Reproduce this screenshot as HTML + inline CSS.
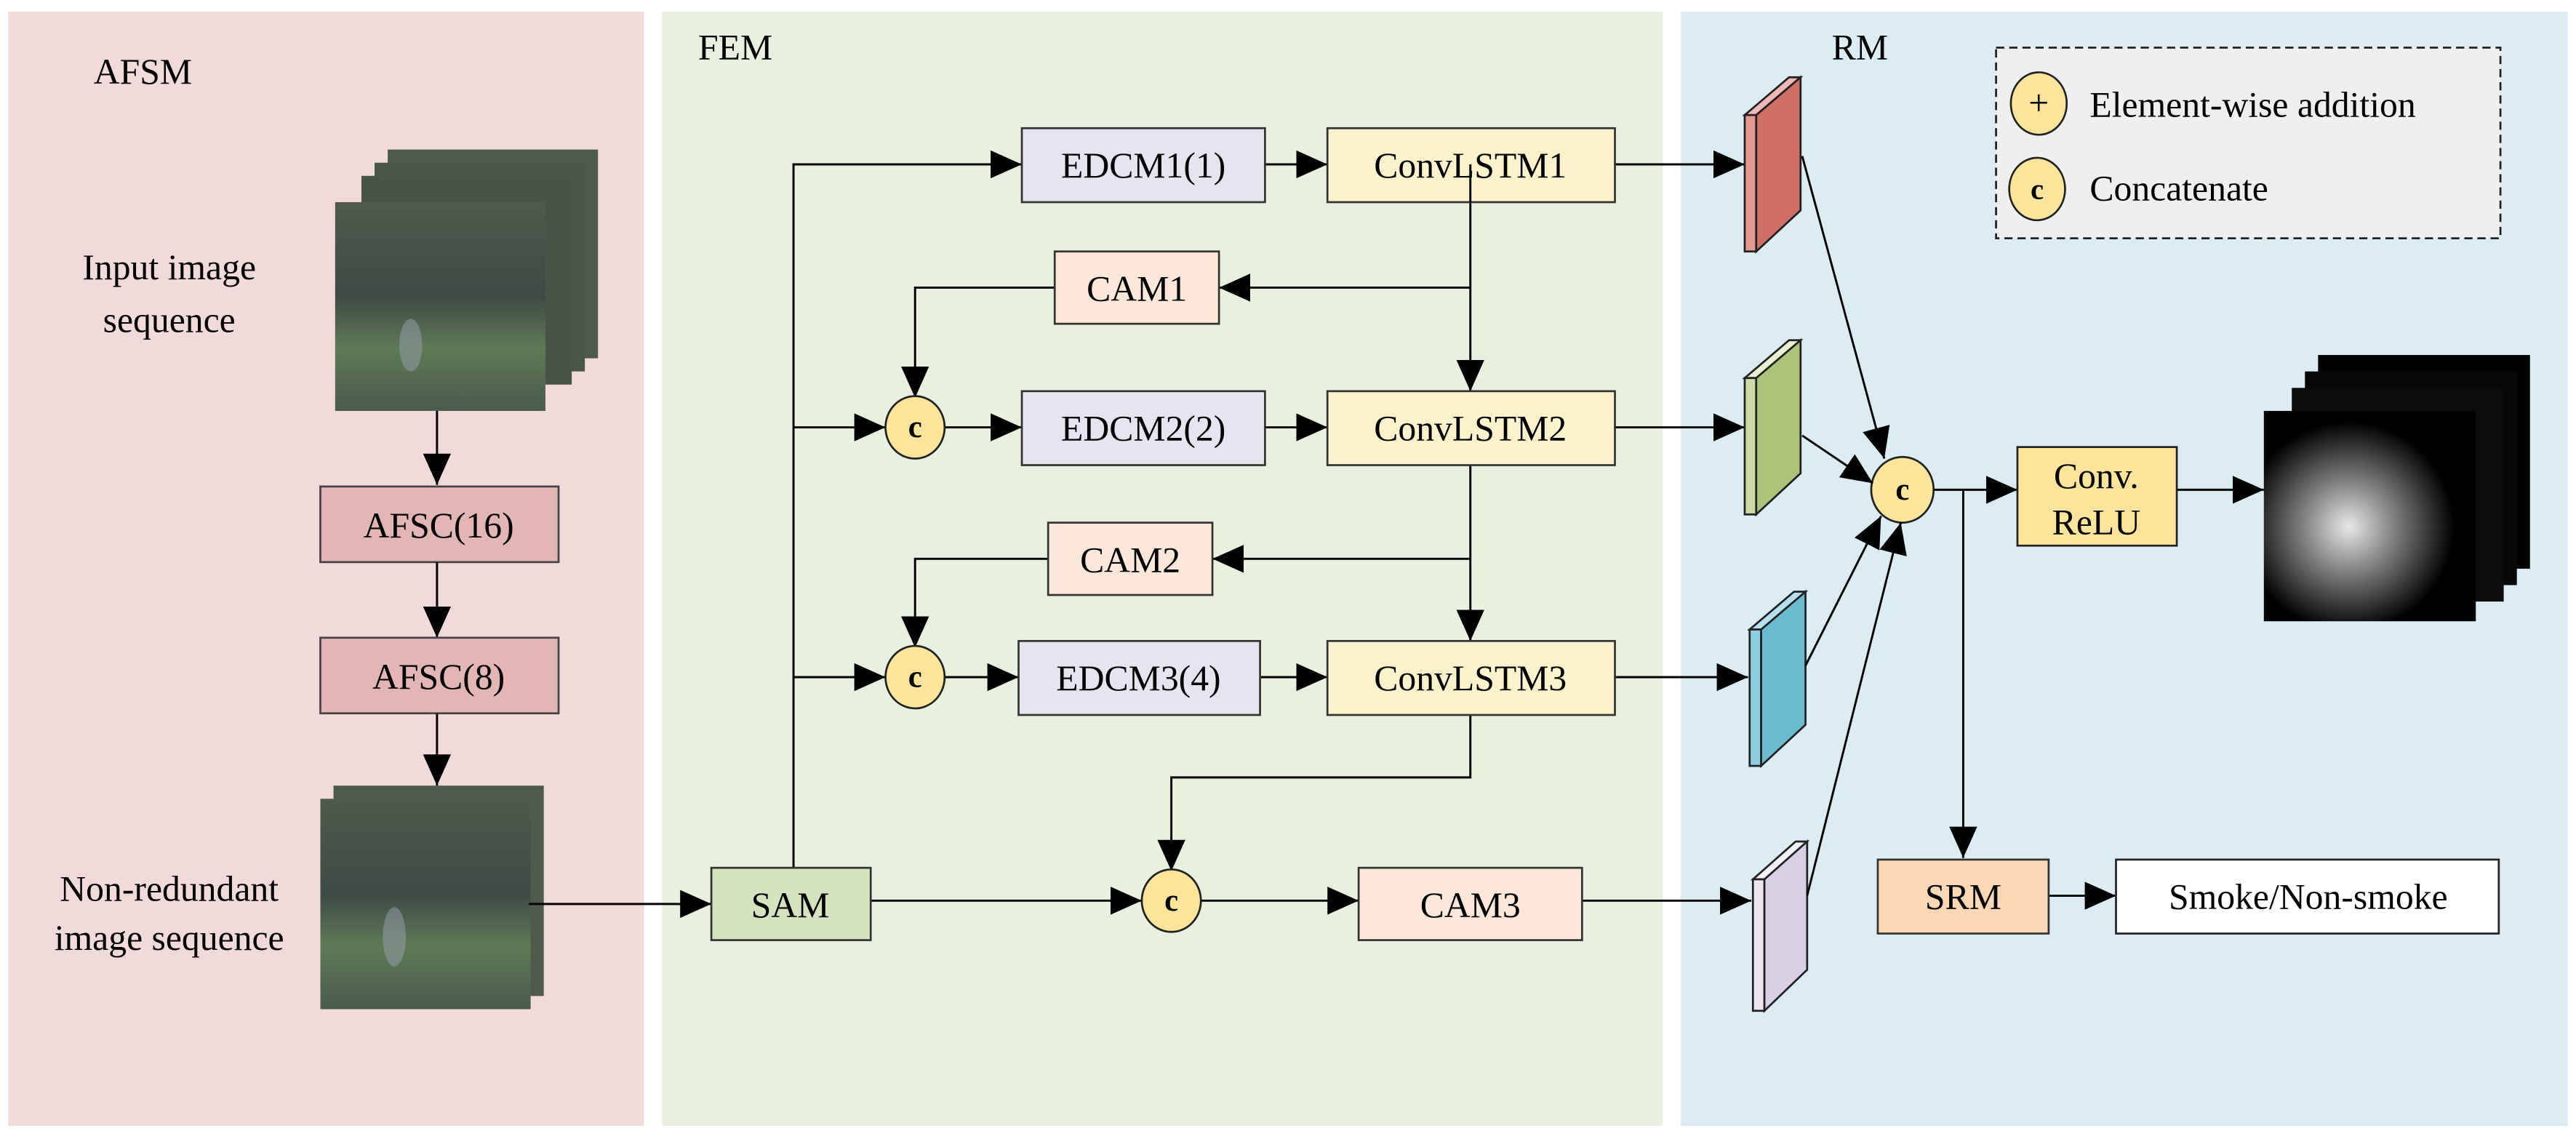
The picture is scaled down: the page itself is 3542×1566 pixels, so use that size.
<!DOCTYPE html>
<html><head><meta charset="utf-8"><style>
html,body{margin:0;padding:0;background:#fff;}
svg{display:block;}
text{font-family:"Liberation Serif",serif;fill:#000;}
</style></head><body>
<svg width="3542" height="1566" viewBox="0 0 1568 693" preserveAspectRatio="none" xmlns="http://www.w3.org/2000/svg">
<defs>
<marker id="b" viewBox="0 0 10 10" refX="10" refY="5" markerWidth="19" markerHeight="17" markerUnits="userSpaceOnUse" orient="auto" preserveAspectRatio="none">
<path d="M0,0 L10,5 L0,10 z" fill="#000"/></marker>
<linearGradient id="img" x1="0" y1="0" x2="0" y2="1">
<stop offset="0" stop-color="#4f5a4c"/><stop offset="0.45" stop-color="#3e4a45"/><stop offset="0.7" stop-color="#5f7a56"/><stop offset="1" stop-color="#4a5b4e"/></linearGradient>
<radialGradient id="smk" cx="0.4" cy="0.55" r="0.5">
<stop offset="0" stop-color="#e8e8e8"/><stop offset="0.4" stop-color="#888"/><stop offset="1" stop-color="#000"/></radialGradient>
</defs>
<rect width="1568" height="693" fill="#fff"/>
<rect x="5" y="7" width="387" height="678" fill="#f1dada"/>
<rect x="403" y="7" width="609" height="678" fill="#e9f0df"/>
<rect x="1023" y="7" width="540" height="678" fill="#dbedf3"/>
<text x="57" y="51" font-size="22">AFSM</text>
<text x="425" y="36" font-size="22">FEM</text>
<text x="1115" y="36" font-size="22">RM</text>

<g>
<rect x="236" y="91" width="128" height="127" fill="#4e5a4c"/>
<rect x="228" y="99" width="128" height="127" fill="#4a5649"/>
<rect x="220" y="107" width="128" height="127" fill="#475448"/>
<rect x="204" y="123" width="128" height="127" fill="url(#img)"/>
<ellipse cx="250" cy="210" rx="7" ry="16" fill="#9aa0b0" opacity="0.5"/>
</g>
<text x="103" y="170" font-size="22" text-anchor="middle">Input image</text>
<text x="103" y="202" font-size="22" text-anchor="middle">sequence</text>
<line x1="266" y1="250" x2="266" y2="295" stroke="#000" stroke-width="1.3" marker-end="url(#b)"/>
<rect x="195" y="296" width="145" height="46" fill="#e3b5b5" stroke="#444" stroke-width="1.2"/>
<text x="267" y="327" font-size="22" text-anchor="middle">AFSC(16)</text>
<line x1="266" y1="342" x2="266" y2="388" stroke="#000" stroke-width="1.3" marker-end="url(#b)"/>
<rect x="195" y="388" width="145" height="46" fill="#e3b5b5" stroke="#444" stroke-width="1.2"/>
<text x="267" y="419" font-size="22" text-anchor="middle">AFSC(8)</text>
<line x1="266" y1="434" x2="266" y2="478" stroke="#000" stroke-width="1.3" marker-end="url(#b)"/>
<g>
<rect x="203" y="478" width="128" height="128" fill="#4e5a4c"/>
<rect x="195" y="486" width="128" height="128" fill="url(#img)"/>
<ellipse cx="240" cy="570" rx="7" ry="18" fill="#9aa0b0" opacity="0.5"/>
</g>
<text x="103" y="548" font-size="22" text-anchor="middle">Non-redundant</text>
<text x="103" y="578" font-size="22" text-anchor="middle">image sequence</text>

<g stroke="#000" stroke-width="1.3" fill="none">
<line x1="322" y1="550" x2="433" y2="550" marker-end="url(#b)"/>
<polyline points="483,528 483,100 622,100" marker-end="url(#b)"/>
<line x1="483" y1="260" x2="539" y2="260" marker-end="url(#b)"/>
<line x1="483" y1="412" x2="539" y2="412" marker-end="url(#b)"/>
<line x1="575" y1="260" x2="622" y2="260" marker-end="url(#b)"/>
<line x1="575" y1="412" x2="620" y2="412" marker-end="url(#b)"/>
<line x1="770" y1="100" x2="808" y2="100" marker-end="url(#b)"/>
<line x1="770" y1="260" x2="808" y2="260" marker-end="url(#b)"/>
<line x1="767" y1="412" x2="808" y2="412" marker-end="url(#b)"/>
<line x1="895" y1="100" x2="895" y2="238" marker-end="url(#b)"/>
<line x1="895" y1="175" x2="742" y2="175" marker-end="url(#b)"/>
<polyline points="642,175 557,175 557,242" marker-end="url(#b)"/>
<line x1="895" y1="283" x2="895" y2="390" marker-end="url(#b)"/>
<line x1="895" y1="340" x2="738" y2="340" marker-end="url(#b)"/>
<polyline points="638,340 557,340 557,394" marker-end="url(#b)"/>
<polyline points="895,435 895,473 713,473 713,530" marker-end="url(#b)"/>
<line x1="530" y1="548" x2="695" y2="548" marker-end="url(#b)"/>
<line x1="731" y1="548" x2="827" y2="548" marker-end="url(#b)"/>
<line x1="983" y1="100" x2="1062" y2="100" marker-end="url(#b)"/>
<line x1="983" y1="260" x2="1062" y2="260" marker-end="url(#b)"/>
<line x1="983" y1="412" x2="1064" y2="412" marker-end="url(#b)"/>
<line x1="963" y1="548" x2="1066" y2="548" marker-end="url(#b)"/>
</g>
<g stroke="#333" stroke-width="1.2">
<rect x="433" y="528" width="97" height="44" fill="#d5e3c1"/>
<rect x="622" y="78" width="148" height="45" fill="#e6e4ef"/>
<rect x="808" y="78" width="175" height="45" fill="#fdf2cc"/>
<rect x="642" y="153" width="100" height="44" fill="#fce7d9"/>
<rect x="622" y="238" width="148" height="45" fill="#e6e4ef"/>
<rect x="808" y="238" width="175" height="45" fill="#fdf2cc"/>
<rect x="638" y="318" width="100" height="44" fill="#fce7d9"/>
<rect x="620" y="390" width="147" height="45" fill="#e6e4ef"/>
<rect x="808" y="390" width="175" height="45" fill="#fdf2cc"/>
<rect x="827" y="528" width="136" height="44" fill="#fce7d9"/>
</g>
<line x1="895" y1="100" x2="895" y2="123" stroke="#000" stroke-width="1.3"/>
<g font-size="22" text-anchor="middle">
<text x="481" y="558">SAM</text>
<text x="696" y="108">EDCM1(1)</text>
<text x="895" y="108">ConvLSTM1</text>
<text x="692" y="183">CAM1</text>
<text x="696" y="268">EDCM2(2)</text>
<text x="895" y="268">ConvLSTM2</text>
<text x="688" y="348">CAM2</text>
<text x="693" y="420">EDCM3(4)</text>
<text x="895" y="420">ConvLSTM3</text>
<text x="895" y="558">CAM3</text>
</g>
<g fill="#fde49b" stroke="#222" stroke-width="1.2">
<ellipse cx="557" cy="260" rx="18" ry="19"/>
<ellipse cx="557" cy="412" rx="18" ry="19"/>
<ellipse cx="713" cy="548" rx="18" ry="19"/>
<ellipse cx="1158" cy="298" rx="19" ry="20"/>
</g>
<g font-size="19" font-weight="bold" text-anchor="middle">
<text x="557" y="266">c</text>
<text x="557" y="418">c</text>
<text x="713" y="554">c</text>
<text x="1158" y="304">c</text>
</g>

<g stroke="#222" stroke-width="1.2">
<polygon points="1062,70 1069,70 1096,47 1089,47" fill="#f1b8b8"/>
<rect x="1062" y="70" width="7" height="83" fill="#e39a92"/>
<polygon points="1069,70 1096,47 1096,128 1069,153" fill="#cf6f65"/>
<polygon points="1062,230 1069,230 1096,207 1089,207" fill="#e8f0d0"/>
<rect x="1062" y="230" width="7" height="83" fill="#cbd9a4"/>
<polygon points="1069,230 1096,207 1096,288 1069,313" fill="#abc47a"/>
<polygon points="1065,383 1072,383 1099,360 1092,360" fill="#b6e0ec"/>
<rect x="1065" y="383" width="7" height="83" fill="#8fcde0"/>
<polygon points="1072,383 1099,360 1099,441 1072,466" fill="#6bbbd0"/>
<polygon points="1067,535 1074,535 1100,512 1093,512" fill="#f4f0f8"/>
<rect x="1067" y="535" width="7" height="80" fill="#ece6f2"/>
<polygon points="1074,535 1100,512 1100,590 1074,615" fill="#d8d0e4"/>
</g>
<g stroke="#000" stroke-width="1.3" fill="none">
<line x1="1097" y1="95" x2="1147" y2="279" marker-end="url(#b)"/>
<line x1="1097" y1="265" x2="1140" y2="294" marker-end="url(#b)"/>
<line x1="1099" y1="405" x2="1145" y2="314" marker-end="url(#b)"/>
<line x1="1100" y1="545" x2="1157" y2="318" marker-end="url(#b)"/>
<line x1="1177" y1="298" x2="1228" y2="298" marker-end="url(#b)"/>
<polyline points="1195,298 1195,522" marker-end="url(#b)"/>
<line x1="1325" y1="298" x2="1378" y2="298" marker-end="url(#b)"/>
<line x1="1247" y1="545" x2="1288" y2="545" marker-end="url(#b)"/>
</g>
<rect x="1228" y="272" width="97" height="60" fill="#fde49b" stroke="#222" stroke-width="1.2"/>
<text x="1276" y="297" font-size="22" text-anchor="middle">Conv.</text>
<text x="1276" y="325" font-size="22" text-anchor="middle">ReLU</text>
<rect x="1143" y="523" width="104" height="45" fill="#fad7b5" stroke="#333" stroke-width="1.2"/>
<text x="1195" y="553" font-size="22" text-anchor="middle">SRM</text>
<rect x="1288" y="523" width="233" height="45" fill="#fff" stroke="#222" stroke-width="1.2"/>
<text x="1405" y="553" font-size="22" text-anchor="middle">Smoke/Non-smoke</text>
<rect x="1411" y="216" width="129" height="130" fill="#000"/>
<rect x="1403" y="226" width="129" height="130" fill="#080808"/>
<rect x="1395" y="236" width="129" height="130" fill="#0c0c0c"/>
<rect x="1378" y="250" width="129" height="128" fill="url(#smk)"/>
<rect x="1215" y="29" width="307" height="116" fill="#efefef" stroke="#222" stroke-width="1.2" stroke-dasharray="5,3"/>
<ellipse cx="1241" cy="63" rx="17" ry="19" fill="#fde49b" stroke="#222" stroke-width="1.2"/>
<text x="1241" y="70" font-size="22" text-anchor="middle">+</text>
<ellipse cx="1240" cy="115" rx="17" ry="19" fill="#fde49b" stroke="#222" stroke-width="1.2"/>
<text x="1240" y="121" font-size="18" font-weight="bold" text-anchor="middle">c</text>
<text x="1272" y="71" font-size="22">Element-wise addition</text>
<text x="1272" y="122" font-size="22">Concatenate</text>
</svg>
</body></html>
